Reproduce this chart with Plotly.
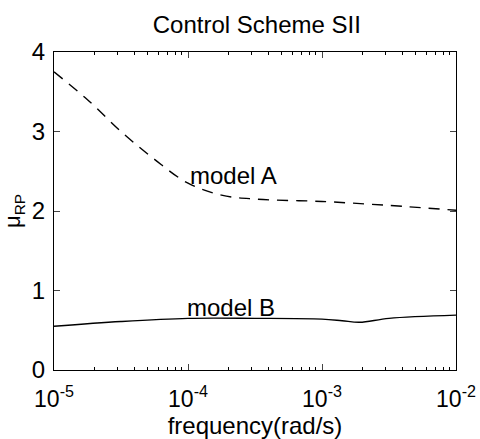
import plotly.graph_objects as go
import numpy as np

# data
freq_A = [1e-5, 10**-4.75, 10**-4.5, 10**-4.25, 1e-4, 10**-3.75, 10**-3.5, 1e-3, 10**-2.5, 1e-2]
mu_A = [3.75, 3.4, 3.0, 2.65, 2.35, 2.2, 2.15, 2.12, 2.07, 2.01]
freq_B = [1e-5, 10**-4.5, 1e-4, 10**-3.5, 1e-3, 10**-2.85, 10**-2.72, 10**-2.5, 1e-2]
mu_B = [0.55, 0.61, 0.65, 0.65, 0.64, 0.62, 0.60, 0.65, 0.69]
xtick_vals = [1e-5, 1e-4, 1e-3, 1e-2]
xtick_text = ["10<sup>-5</sup>", "10<sup>-4</sup>", "10<sup>-3</sup>", "10<sup>-2</sup>"]
ytick_vals = [0, 1, 2, 3, 4]
minor_mult = [2, 3, 4, 5, 6, 7, 8, 9]
minor_vals = [m * d for d in [1e-5, 1e-4, 1e-3] for m in minor_mult]

font = "Liberation Sans, Arial, sans-serif"
fig = go.Figure()
fig.add_trace(go.Scatter(x=freq_A, y=mu_A, mode="lines",
                         line=dict(color="black", width=1.4, dash="11px,8px", shape="spline"), showlegend=False))
fig.add_trace(go.Scatter(x=freq_B, y=mu_B, mode="lines",
                         line=dict(color="black", width=1.4, shape="spline"), showlegend=False))

fig.add_annotation(x=np.log10(2.2e-4), y=2.45, text="model A", showarrow=False,
                   font=dict(size=24, color="black", family=font))
fig.add_annotation(x=np.log10(2.1e-4), y=0.78, text="model B", showarrow=False,
                   font=dict(size=24, color="black", family=font))

fig.update_layout(
    width=480, height=439,
    margin=dict(l=54, r=24, t=52, b=69, autoexpand=False),
    paper_bgcolor="white", plot_bgcolor="white",
    title=dict(text="Control Scheme SII", x=0.535, xanchor="center", y=0.945, yanchor="middle",
               font=dict(size=24, color="black", family=font)),
    font=dict(family=font, color="black", size=22),
)
fig.update_xaxes(type="log", range=[-5, -2], tickvals=xtick_vals, ticktext=xtick_text,
                 ticks="inside", ticklen=6, showline=True, linecolor="black", linewidth=1.2, mirror="ticks",
                 showgrid=False, zeroline=False, automargin=False, ticklabelstandoff=8,
                 minor=dict(tickmode="array", tickvals=minor_vals, ticks="inside", ticklen=3,
                            tickcolor="black", showgrid=False),
                 title=dict(text="frequency(rad/s)", font=dict(size=24), standoff=0),
                 tickfont=dict(size=23))
fig.update_yaxes(range=[0, 4], tickvals=ytick_vals, ticks="inside", ticklen=6, showline=True, linecolor="black",
                 linewidth=1.2, mirror="ticks", showgrid=False, zeroline=False, automargin=False,
                 ticklabelstandoff=3,
                 title=dict(text="μ<sub>RP</sub>", font=dict(size=22), standoff=6),
                 tickfont=dict(size=24))
fig.write_html("out.html")
